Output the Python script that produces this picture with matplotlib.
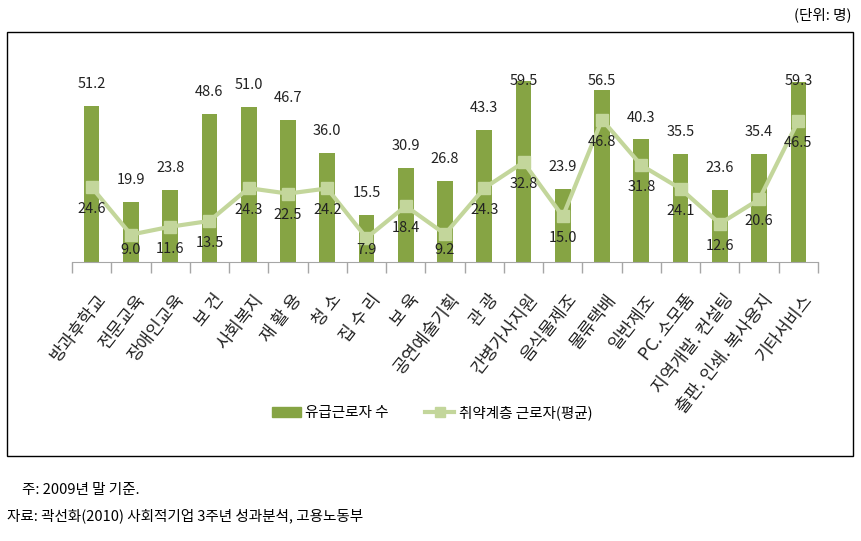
import matplotlib
matplotlib.use('Agg')
import matplotlib.pyplot as plt
from matplotlib.patches import Rectangle
from matplotlib.lines import Line2D
import numpy as np

plt.rcParams['font.family'] = ['Noto Sans CJK KR', 'DejaVu Sans']

# 데이터 (data)
categories = ['방과후학교', '전문교육', '장애인교육', '보 건', '사회복지', '재 활 용',
              '청 소', '집 수 리', '보 육', '공연예술기획', '관 광', '간병가사지원',
              '음식물제조', '물류택배', '일반제조', 'PC. 소모품', '지역개발. 컨설팅',
              '출판. 인쇄. 복사용지', '기타서비스']
paid_workers = [51.2, 19.9, 23.8, 48.6, 51.0, 46.7, 36.0, 15.5, 30.9, 26.8,
                43.3, 59.5, 23.9, 56.5, 40.3, 35.5, 23.6, 35.4, 59.3]
vulnerable_workers = [24.6, 9.0, 11.6, 13.5, 24.3, 22.5, 24.2, 7.9, 18.4, 9.2,
                      24.3, 32.8, 15.0, 46.8, 31.8, 24.1, 12.6, 20.6, 46.5]

bar_color = '#86a444'
line_color = '#c3d69b'

fig = plt.figure(figsize=(8.61, 5.41), dpi=100)

# outer frame
fig.patches.append(Rectangle((7 / 861, 1 - 456 / 541), 846 / 861, 424 / 541,
                             transform=fig.transFigure, fill=False,
                             edgecolor='black', linewidth=1.0))

ax = fig.add_axes([72 / 861, 1 - 262 / 541, 746 / 861, 197.6 / 541])
x = np.arange(len(categories))

ax.bar(x, paid_workers, width=0.4, color=bar_color, zorder=2)
ax.plot(x, vulnerable_workers, color=line_color, linewidth=3, marker='s',
        markersize=8.5, markerfacecolor=line_color, markeredgecolor=line_color, zorder=3)

# value labels (값 라벨)
for xi, v in zip(x, paid_workers):
    ax.text(xi, min(v + 7.2, 59.6), f'{v:.1f}', ha='center', va='center',
            fontsize=10.5, color='#222222', zorder=4)
for xi, v in zip(x, vulnerable_workers):
    ax.text(xi, max(v - 7.2, 3.8), f'{v:.1f}', ha='center', va='center',
            fontsize=10.5, color='#222222', zorder=4)

ax.set_xlim(-0.5, len(categories) - 0.5)
ax.set_ylim(0, 65)
for side in ['top', 'right', 'left']:
    ax.spines[side].set_visible(False)
ax.spines['bottom'].set_color('#a6a6a6')
ax.set_yticks([])

# tick marks between categories
ax.set_xticks(np.arange(-0.5, len(categories), 1.0))
ax.set_xticklabels([])
ax.tick_params(axis='x', direction='out', length=8, color='#a6a6a6', width=1)
for xi, name in zip(x, categories):
    ax.text(xi + 0.1, -9.5, name, rotation=52, ha='right', va='top',
            rotation_mode='anchor', fontsize=12.5, color='#222222')

# legend (범례)
handles = [Rectangle((0, 0), 1, 1, color=bar_color),
           Line2D([0], [0], color=line_color, linewidth=3, marker='s',
                  markersize=7, markerfacecolor=line_color, markeredgecolor=line_color)]
fig.legend(handles, ['유급근로자 수', '취약계층 근로자(평균)'], loc='center',
           bbox_to_anchor=(432 / 861, 1 - 413 / 541), ncol=2, frameon=False,
           fontsize=10.5, handlelength=2.0, columnspacing=2.5, handletextpad=0.3)

fig.text(852 / 861, 1 - 15 / 541, '(단위: 명)', ha='right', va='center', fontsize=10.5)
fig.text(22 / 861, 1 - 490 / 541, '주: 2009년 말 기준.', ha='left', va='center', fontsize=10.5)
fig.text(7 / 861, 1 - 516 / 541, '자료: 곽선화(2010) 사회적기업 3주년 성과분석, 고용노동부',
         ha='left', va='center', fontsize=10.5)

fig.savefig('out.png', dpi=100)
